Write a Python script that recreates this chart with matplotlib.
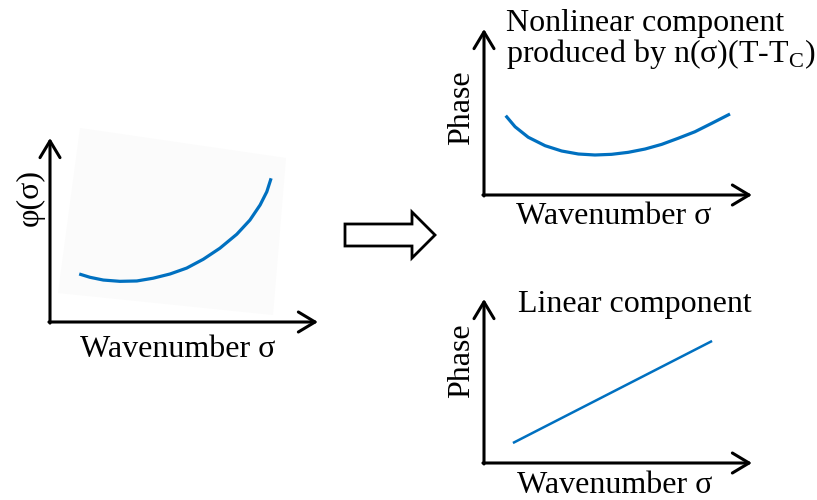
import numpy as np
import matplotlib
matplotlib.use("Agg")
import matplotlib.pyplot as plt
from matplotlib.patches import FancyArrow, Polygon

plt.rcParams['font.family'] = ['Liberation Serif', 'DejaVu Serif']
plt.rcParams['mathtext.fontset'] = 'custom'
plt.rcParams['mathtext.rm'] = 'Liberation Serif'

BLUE = "#0070c0"

# measured phase phi(sigma), axis units 0..10
sig_total = [1.09, 1.49, 1.99, 2.61, 3.24, 3.85, 4.48, 5.10, 5.72, 6.34,
             6.97, 7.46, 7.84, 8.09, 8.25]
phi_total = [2.61, 2.43, 2.28, 2.21, 2.23, 2.38, 2.61, 2.93, 3.41, 4.01,
             4.77, 5.54, 6.36, 7.08, 7.81]

# nonlinear part n(sigma)(T-Tc)
sig_nl = [0.81, 1.16, 1.65, 2.28, 2.90, 3.52, 4.14, 4.76, 5.38, 6.01,
          6.63, 7.25, 7.87, 8.50, 9.18]
phi_nl = [4.78, 4.11, 3.48, 2.97, 2.65, 2.47, 2.41, 2.45, 2.57, 2.77,
          3.05, 3.42, 3.81, 4.32, 4.88]

# linear part
sig_lin = [1.08, 8.51]
phi_lin = [1.22, 7.44]

W, H = 817, 500
fig = plt.figure(figsize=(W / 100, H / 100), dpi=100)

# background layer in pixel units for labels and the big arrow
bg = fig.add_axes([0, 0, 1, 1])
bg.set_xlim(0, W)
bg.set_ylim(H, 0)
bg.axis('off')


def panel(x0, y0, x1, y1):
    """small axes from origin (x0, y0) to arrow tips (x1, y1), pixels"""
    ax = fig.add_axes([x0 / W, 1 - y0 / H, (x1 - x0) / W, (y0 - y1) / H])
    ax.set_xlim(0, 10)
    ax.set_ylim(0, 10)
    ax.axis('off')
    arr = dict(arrowstyle="->,head_length=0.6,head_width=0.36",
               color="black", lw=2.2, shrinkA=0, shrinkB=0,
               mutation_scale=20)
    ax.annotate("", xy=(1, 0), xytext=(-0.004, 0), xycoords='axes fraction',
                arrowprops=arr, annotation_clip=False)
    ax.annotate("", xy=(0, 1), xytext=(0, -0.006), xycoords='axes fraction',
                arrowprops=arr, annotation_clip=False)
    return ax


curve = dict(color=BLUE, solid_capstyle='butt', solid_joinstyle='round')

# faint tilted backdrop behind the left curve
bg.add_patch(Polygon([(80, 128), (286, 158), (273, 315), (58, 293)],
                     closed=True, facecolor="#fbfbfb", edgecolor="none"))

# left: total phase
ax1 = panel(50, 322, 318, 138)
ax1.plot(sig_total, phi_total, lw=2.3, **curve)
bg.text(30, 197, "φ(σ)", rotation=90, ha='center', va='center', fontsize=23)
bg.text(178, 357, "Wavenumber σ", ha='center', va='baseline', fontsize=23)

# top right: nonlinear component
ax2 = panel(484, 195, 752, 29)
ax2.plot(sig_nl, phi_nl, lw=2.3, **curve)
bg.text(506, 31, "Nonlinear component", ha='left', va='baseline', fontsize=23)
bg.text(506, 62, r"produced by n(σ)(T-T$_\mathregular{C}$)", ha='left',
        va='baseline', fontsize=23)
bg.text(462, 108, "Phase", rotation=90, ha='center', va='center', fontsize=23)
bg.text(614, 224, "Wavenumber σ", ha='center', va='baseline', fontsize=23)

# bottom right: linear component
ax3 = panel(484, 463, 752, 299)
ax3.plot(sig_lin, phi_lin, lw=1.8, **curve)
bg.text(635, 312, "Linear component", ha='center', va='baseline', fontsize=23)
bg.text(462, 361, "Phase", rotation=90, ha='center', va='center', fontsize=23)
bg.text(615, 493, "Wavenumber σ", ha='center', va='baseline', fontsize=23)

# hollow block arrow between the panels
bg.add_patch(FancyArrow(345, 235, 90, 0, width=22, head_width=46,
                        head_length=23, length_includes_head=True,
                        facecolor="white", edgecolor="black", lw=2.0))

fig.savefig("out.png", dpi=100)
